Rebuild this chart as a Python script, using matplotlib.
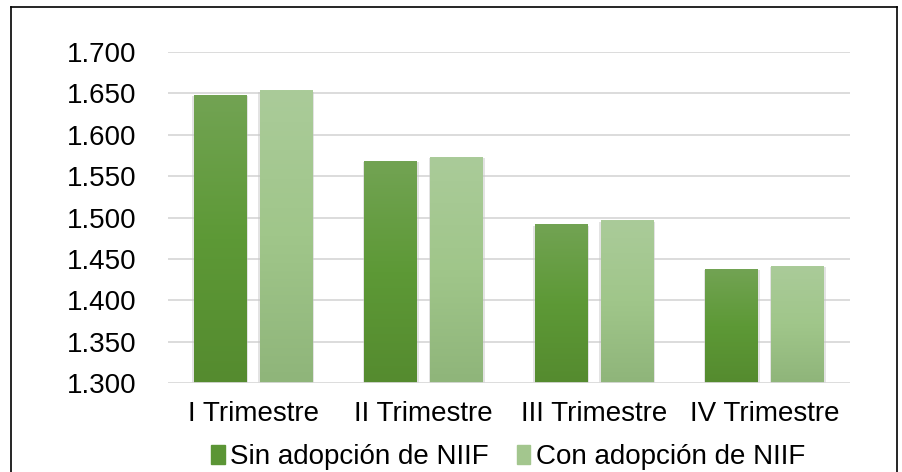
import numpy as np
import matplotlib.pyplot as plt
from matplotlib.patches import Rectangle
from matplotlib.lines import Line2D
from matplotlib.colors import LinearSegmentedColormap

plt.rcParams['font.family'] = ['Liberation Sans', 'DejaVu Sans']

categories = ['I Trimestre', 'II Trimestre', 'III Trimestre', 'IV Trimestre']
series_names = ['Sin adopción de NIIF', 'Con adopción de NIIF']
sin_niif = [1.648, 1.568, 1.491, 1.437]
con_niif = [1.653, 1.573, 1.496, 1.441]
yticks = [1.30, 1.35, 1.40, 1.45, 1.50, 1.55, 1.60, 1.65, 1.70]
ytick_labels = ['1.300', '1.350', '1.400', '1.450', '1.500', '1.550', '1.600', '1.650', '1.700']

# gradient colours (top, middle, bottom)
grad1 = ['#72a353', '#5d9936', '#558b2f']
grad2 = ['#aacb99', '#a0c68a', '#8fb57a']
legend_cols = ['#5b9535', '#a3c68e']

fig = plt.figure(figsize=(9.03, 4.72), dpi=100)
ax = fig.add_axes([168/903, 1-383/472, (850-168)/903, (383-52)/472])

for y in yticks[1:]:
    ax.axhline(y, color='#d9d9d9', lw=1.3, zorder=0)
ax.axhline(1.3, color='#d9d9d9', lw=2, zorder=3)

def grad_img(cols):
    cm = LinearSegmentedColormap.from_list('g', cols[::-1])
    return cm(np.linspace(0, 1, 100))[:, None, :]

bw = 0.31
gap = 0.077
x = np.arange(len(categories))
for vals, cols, off in [(sin_niif, grad1, -(bw+gap)/2), (con_niif, grad2, (bw+gap)/2)]:
    img = grad_img(cols)
    for xi, v in zip(x, vals):
        l = xi + off - bw/2
        # soft shadow on the sides
        ax.add_patch(Rectangle((l-0.01, 1.3), bw+0.02, v-1.3-0.001,
                               facecolor='#c8c8c8', alpha=0.5, lw=0, zorder=1))
        ax.imshow(img, extent=[l, l+bw, 1.3, v], origin='lower',
                  aspect='auto', zorder=2)
ax.set_xlim(-0.5, len(categories)-0.5)
ax.set_ylim(1.3, 1.7)

ax.set_yticks(yticks)
ax.set_yticklabels(ytick_labels)
ax.set_xticks(x)
ax.set_xticklabels(categories)
ax.tick_params(axis='both', length=0, labelsize=20, colors='black')
ax.tick_params(axis='y', pad=23)
ax.tick_params(axis='x', pad=13)
for s in ax.spines.values():
    s.set_visible(False)

handles = [Rectangle((0, 0), 1, 1, color=c) for c in legend_cols]
fig.legend(handles, series_names, loc='center', bbox_to_anchor=(508/903, 1-457/472),
           ncol=2, frameon=False, fontsize=20, handlelength=0.5, handleheight=0.65,
           handletextpad=0.2, columnspacing=1.0, borderpad=0)

# outer frame
fig.add_artist(Line2D([11/903, 11/903], [0, 1-7/472], color='black', lw=1.2))
fig.add_artist(Line2D([11/903, 897/903], [1-7/472, 1-7/472], color='black', lw=1.2))
fig.add_artist(Line2D([897/903, 897/903], [0, 1-7/472], color='black', lw=1.2))

fig.savefig('out.png', dpi=100)
